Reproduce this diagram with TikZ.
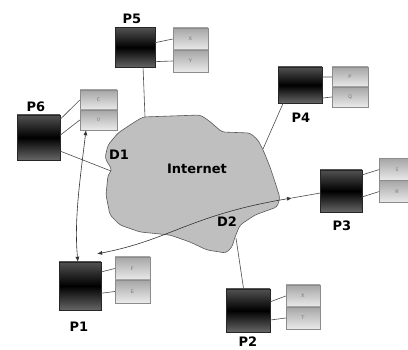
\documentclass[tikz,border=0pt]{standalone}
\usepackage{fontspec}
\newfontfamily\tagfont{DejaVu Sans}
\usetikzlibrary{arrows.meta,calc}

\tikzset{
  host/.style={draw=black!85, inner sep=0pt, top color=black!68, bottom color=black!60, middle color=black},
  cell/.style={draw=black!45, inner sep=0pt, minimum width=35pt, minimum height=22pt,
               top color=black!35, bottom color=black!8, text=black!55,
               font=\fontsize{5}{5}\selectfont\sffamily},
  tag/.style={font=\tagfont\bfseries\fontsize{13}{13}\selectfont, inner sep=0pt},
  link/.style={draw=black!70, line width=0.6pt},
  flow/.style={draw=black!80, line width=0.6pt, {Latex[length=5pt,width=4pt]}-{Latex[length=5pt,width=4pt]}},
}
% wire from a host's right side (at a given fraction of its height) to a cell
\newcommand\wire[3]{\draw[link] ($(#1.north east)!#3!(#1.south east)$) -- (#2.west);}

\begin{document}
\begin{tikzpicture}[x=1pt,y=-1pt]
\fill[white] (0,0) rectangle (408,350);
\useasboundingbox (0,0) rectangle (408,350);

% the network cloud
\draw[fill=black!25, draw=black!65, line width=0.6pt, rounded corners=3pt]
  (143,117) -- (200,115) -- (208,120) -- (222,132) -- (250,133) -- (258,140)
  -- (264,152) -- (270,167) -- (275,182) -- (280,198) -- (277,207) -- (255,215)
  -- (240,225) -- (235,237) -- (232,247) -- (226,253) -- (207,250) -- (190,242)
  -- (170,235) -- (140,232) -- (120,225) -- (110,215) -- (106,195) -- (108,175)
  -- (112,170) -- (105,158) -- (108,145) -- (118,133) -- (133,123) -- cycle;
\node[tag] (inet) at (197,169) {Internet};
\node[tag] (d1) at (119,155) {D1};
\node[tag] (d2) at (227,222) {D2};

% cloud attachment points
\coordinate (c5) at (145,117);
\coordinate (c4) at (263,149);
\coordinate (c6) at (111,171);
\coordinate (c2) at (236,238);
\coordinate (c3) at (292,198);

% hosts
\node[host, minimum width=40pt, minimum height=40pt] (p5) at (135,47.5) {};
\node[host, minimum width=44pt, minimum height=36pt] (p4) at (300,85) {};
\node[host, minimum width=43pt, minimum height=45pt] (p6) at (38.5,137.5) {};
\node[host, minimum width=42pt, minimum height=42pt] (p3) at (341,191) {};
\node[host, minimum width=42pt, minimum height=48pt] (p1) at (80,286) {};
\node[host, minimum width=44pt, minimum height=43pt] (p2) at (248,310.5) {};

% host labels
\node[tag] (l5) at (132,19) {P5};
\node[tag] (l4) at (301,118) {P4};
\node[tag] (l6) at (36,107) {P6};
\node[tag] (l3) at (342,226) {P3};
\node[tag] (l1) at (79,327) {P1};
\node[tag] (l2) at (248,342) {P2};

% cells beside each host
\node[cell] (p5a) at (190.5,39) {X};
\node[cell] (p5b) at (190.5,61) {Y};
\node[cell, minimum width=36pt, minimum height=20pt] (p4a) at (350,77) {P};
\node[cell, minimum width=36pt, minimum height=20pt] (p4b) at (350,97) {Q};
\node[cell, minimum width=37pt, minimum height=20pt] (p6a) at (98.5,100) {C};
\node[cell, minimum width=37pt, minimum height=20pt] (p6b) at (98.5,120) {U};
\node[cell] (p3a) at (397,169.5) {S};
\node[cell] (p3b) at (397,191.5) {R};
\node[cell, minimum height=23pt] (p1a) at (132.5,268.5) {F};
\node[cell, minimum height=23pt] (p1b) at (132.5,291.5) {E};
\node[cell, minimum width=34pt] (p2a) at (303,296) {X};
\node[cell, minimum width=34pt] (p2b) at (303,318) {T};

\wire{p5}{p5a}{0.38}
\wire{p5}{p5b}{0.85}
\wire{p4}{p4a}{0.28}
\wire{p4}{p4b}{0.86}
\wire{p6}{p6a}{0.1}
\wire{p6}{p6b}{0.45}
\wire{p3}{p3a}{0.12}
\wire{p3}{p3b}{0.64}
\wire{p1}{p1a}{0.21}
\wire{p1}{p1b}{0.65}
\wire{p2}{p2a}{0.3}
\wire{p2}{p2b}{0.72}

% hosts to the cloud
\draw[link] ($(p5.south west)!0.7!(p5.south east)$) -- (c5);
\draw[link] ($(p4.south west)!0.12!(p4.south east)$) -- (c4);
\draw[link] ($(p6.north east)!0.8!(p6.south east)$) -- (c6);
\draw[link] ($(p2.north west)!0.4!(p2.north east)$) -- (c2);
\draw[link] ($(p3.north west)!0.55!(p3.south west)$) -- (c3);

% flows
\draw[flow] (p6b.south -| 86,0) .. controls (80,180) and (74,220) .. ($(p1.north west)!0.45!(p1.north east)$);
\draw[flow] ($(p1.north east)+(-4,-8)$) .. controls (170,240) and (190,215) .. (c3);
\end{tikzpicture}
\end{document}
